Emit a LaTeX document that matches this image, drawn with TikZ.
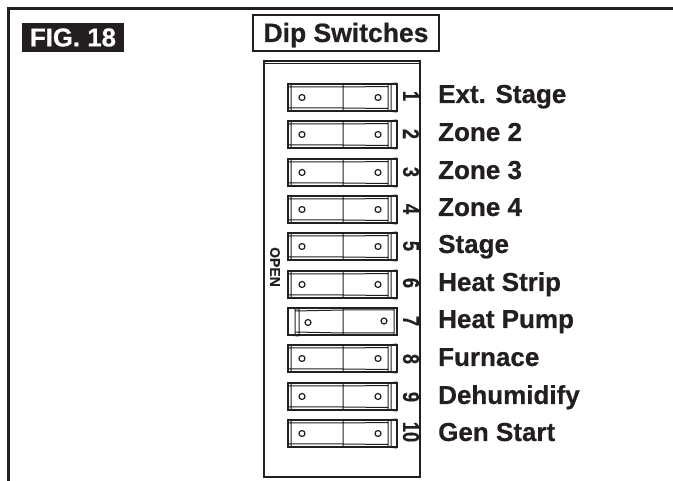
\documentclass[tikz,border=0pt]{standalone}
\usepackage{fontspec}
\setmainfont[BoldFeatures={FakeBold=0.6}]{Liberation Sans}
\definecolor{ink}{HTML}{231F20}
\tikzset{ lab/.style = { anchor       = west
                       , text         = ink
                       , inner sep    = 0pt
                       , font         = \fontsize{26}{26}\selectfont\bfseries
                       , text height  = 18pt
                       , text depth   = 0pt
                       },
          dig/.style = { text         = ink
                       , inner sep    = 0pt
                       , rotate       = -90
                       , xscale       = 0.8
                       , font         = \fontsize{23}{24}\selectfont\bfseries
                       },
          swon/.pic = { \draw[ink, line width=1.3pt] (0,0) rectangle (109,27);
                        \draw[ink, line width=1pt] (0,3)--(55,3)--(100,2.5) (0,24)--(55,24)--(100,24.5)
                                   (3,0)--(3,27) (55,0)--(55,27)
                                   (100,0)--(100,27) (103,0)--(103,27)
                                   (100,0)--(109,-1) (100,27)--(109,28);
                        \draw[ink, line width=1.2pt] (14,13.5) circle (3)
                                   (90,13.5) circle (3);
                      },
          swoff/.pic = { \draw[ink, line width=1.3pt] (0,0) rectangle (109,27);
                         \draw[ink, line width=1pt] (7,3)--(55,2)--(106,2) (7,24)--(55,25)--(106,25)
                                    (7,0)--(7,28) (11,0)--(11,28)
                                    (55,0)--(55,27) (106,0)--(106,27)
                                    (0,0)--(11,1) (0,27)--(11,28);
                         \draw[ink, line width=1.2pt] (20,14.5) circle (3)
                                    (96,13) circle (3);
                       }
        }
\begin{document}
\begin{tikzpicture}[x=1pt, y=-1pt]
      \useasboundingbox (0,0) rectangle (673,481);
      \draw[ink, line width=3pt] (8,481)--(8,9)--(673,9);

      \node[ fill=ink, text=white, inner sep=0pt, minimum width=102pt, minimum height=29pt
           , font=\fontsize{25.8}{26}\selectfont\bfseries] (fig) at (73,37.5) {FIG. 18};
      \node[ draw=ink, line width=2pt, fill=white, text=ink, inner sep=0pt
           , minimum width=186pt, minimum height=36pt, text height=18pt, text depth=0pt
           , font=\fontsize{26.5}{27}\selectfont\bfseries] (title) at (346,33) {Dip Switches};

      \draw[ink, line width=1.2pt] (264,61) rectangle (420,477);
      \draw[ink, line width=1pt] (264,63.5)--(420,63.5);

      \pic at (288,84)  {swon};
      \pic at (288,121) {swon};
      \pic at (288,159) {swon};
      \pic at (288,196) {swon};
      \pic at (288,233) {swon};
      \pic at (288,271) {swon};
      \pic at (288,308) {swoff};
      \pic at (288,345) {swon};
      \pic at (288,383) {swon};
      \pic at (288,420) {swon};

      \node[dig] (n1)  at (411,96)  {1};
      \node[dig] (n2)  at (411,134) {2};
      \node[dig] (n3)  at (411,172) {3};
      \node[dig] (n4)  at (411,209) {4};
      \node[dig] (n5)  at (411,246) {5};
      \node[dig] (n6)  at (411,283) {6};
      \node[dig] (n7)  at (411,321) {7};
      \node[dig] (n8)  at (411,359) {8};
      \node[dig] (n9)  at (411,397) {9};
      \node[dig] (n10) at (411,432) {10};

      \node[ text=ink, inner sep=0pt, rotate=-90
           , font=\fontsize{14}{14}\selectfont\bfseries] (open) at (275,267) {OPEN};

      \node[lab] (ext)  at (438,94)  {Ext. Stage};
      \node[lab] (z2)   at (438,132) {Zone 2};
      \node[lab] (z3)   at (438,170) {Zone 3};
      \node[lab] (z4)   at (438,207) {Zone 4};
      \node[lab] (stg)  at (438,244) {Stage};
      \node[lab] (heat) at (438,282) {Heat Strip};
      \node[lab] (pump) at (438,319) {Heat Pump};
      \node[lab] (furn) at (438,357) {Furnace};
      \node[lab] (dehu) at (438,395) {Dehumidify};
      \node[lab] (gen)  at (438,432) {Gen Start};
    \end{tikzpicture}
\end{document}
